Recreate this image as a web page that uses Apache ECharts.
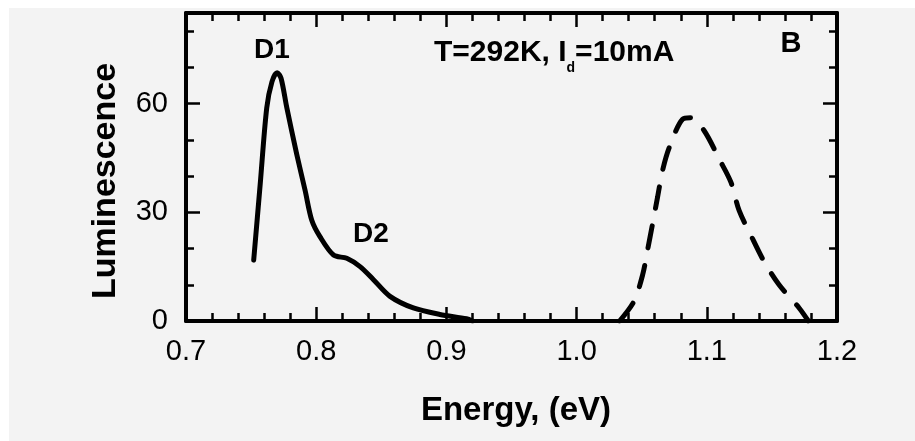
<!DOCTYPE html>
<html>
<head>
<meta charset="utf-8">
<script src="https://cdn.jsdelivr.net/npm/echarts@6/dist/echarts.min.js"></script>
<style>
  html, body { margin: 0; padding: 0; background: #ffffff; }
  #chart { width: 915px; height: 441px; }
</style>
</head>
<body>
<div id="chart"></div>
<script>
// Solid curve (D1 / D2 band)
const solidEnergy = [0.752, 0.757, 0.762, 0.766, 0.770, 0.773, 0.7774, 0.785, 0.7915, 0.7966, 0.803, 0.8133, 0.8235, 0.8337, 0.844, 0.8567, 0.8746, 0.895, 0.9155, 0.920];
const solidLum    = [16.8, 37.8, 58.8, 66.0, 68.5, 67.0, 58.9, 46.1, 36.0, 27.8, 23.2, 18.2, 17.3, 15.0, 11.4, 6.8, 3.6, 1.8, 0.6, 0.0];
// Dashed curve (band-edge peak)
const dashEnergy = [1.033, 1.044, 1.0507, 1.0545, 1.0584, 1.0622, 1.066, 1.0712, 1.0814, 1.0878, 1.098, 1.1095, 1.1185, 1.1248, 1.1338, 1.144, 1.1555, 1.1709, 1.178];
const dashLum    = [0.0, 5.4, 12.7, 19.6, 26.9, 34.2, 41.5, 47.9, 55.7, 56.1, 52.5, 44.7, 38.3, 30.5, 23.7, 16.4, 10.0, 3.6, 0.0];
// Axis settings
const xMin = 0.7, xMax = 1.2, xStep = 0.1;
const yMin = 0, yMax = 85, yMajor = 30, yMinor = 10;
const xTitle = 'Energy, (eV)';
const yTitle = 'Luminescence';
const annD1 = 'D1', annD2 = 'D2', annPanel = 'B';

const FONT = '"Liberation Sans", Arial, Helvetica, sans-serif';
const chart = echarts.init(document.getElementById('chart'), null, { renderer: 'canvas' });

const zip = (a, b) => a.map((v, i) => [v, b[i]]);
const lineBlack = { color: '#000', width: 4 };

function xAxisCfg(pos, showLabel) {
  return {
    type: 'value', position: pos, min: xMin, max: xMax, interval: xStep,
    axisLine: { show: true, onZero: false, lineStyle: lineBlack },
    axisTick: { show: true, inside: true, length: 14, lineStyle: { color: '#000', width: 2.5 } },
    minorTick: { show: true, splitNumber: 5, length: 8, lineStyle: { color: '#000', width: 2.5 } },
    splitLine: { show: false }, minorSplitLine: { show: false },
    axisLabel: { show: showLabel, margin: 16, color: '#000', fontSize: 29, fontFamily: FONT,
                 formatter: v => v.toFixed(1) }
  };
}
function yAxisCfg(pos, interval, len, showLine, showLabel) {
  return {
    type: 'value', position: pos, min: yMin, max: yMax, interval: interval,
    axisLine: { show: showLine, onZero: false, lineStyle: lineBlack },
    axisTick: { show: true, inside: true, length: len, lineStyle: { color: '#000', width: 2.5 } },
    splitLine: { show: false },
    axisLabel: { show: showLabel, margin: 18, color: '#000', fontSize: 29, fontFamily: FONT,
                 formatter: v => (v % yMajor === 0 ? String(v) : '') }
  };
}

const option = {
  animation: false,
  backgroundColor: '#ffffff',
  grid: { left: 186, right: 78, top: 13, bottom: 120, containLabel: false },
  xAxis: [ xAxisCfg('bottom', true), xAxisCfg('top', false) ],
  yAxis: [
    yAxisCfg('left', yMinor, 8, true, true),
    yAxisCfg('left', yMajor, 14, false, false),
    yAxisCfg('right', yMinor, 8, true, false),
    yAxisCfg('right', yMajor, 14, false, false)
  ],
  graphic: [
    { type: 'rect', z: -10, silent: true, shape: { x: 9, y: 8, width: 906, height: 433 }, style: { fill: '#f3f3f3' } },
    { type: 'text', x: 516, y: 411, style: { text: xTitle, fill: '#000', font: 'bold 33px ' + FONT, align: 'center', verticalAlign: 'middle' } },
    { type: 'text', x: 106, y: 181, rotation: Math.PI / 2, style: { text: yTitle, fill: '#000', font: 'bold 34px ' + FONT, align: 'center', verticalAlign: 'middle' } },
    { type: 'text', x: 272, y: 50, style: { text: annD1, fill: '#000', font: 'bold 28px ' + FONT, align: 'center', verticalAlign: 'middle' } },
    { type: 'text', x: 371, y: 234, style: { text: annD2, fill: '#000', font: 'bold 28px ' + FONT, align: 'center', verticalAlign: 'middle' } },
    { type: 'text', x: 791, y: 44, style: { text: annPanel, fill: '#000', font: 'bold 29px ' + FONT, align: 'center', verticalAlign: 'middle' } },
    { type: 'text', x: 434, y: 53, style: {
        text: '{a|T=292K, I}{s|d}{a|=10mA}', align: 'left', verticalAlign: 'middle',
        rich: {
          a: { fontSize: 30, fontWeight: 'bold', fontFamily: FONT, fill: '#000', color: '#000', lineHeight: 30, verticalAlign: 'middle' },
          s: { fontSize: 14, fontWeight: 'bold', fontFamily: FONT, fill: '#000', color: '#000', lineHeight: 44, verticalAlign: 'bottom' }
        } } }
  ],
  series: [
    { type: 'line', xAxisIndex: 0, yAxisIndex: 0, data: zip(solidEnergy, solidLum), smooth: 0.3,
      showSymbol: false, lineStyle: { color: '#000', width: 5, cap: 'round', join: 'round' } },
    { type: 'line', xAxisIndex: 0, yAxisIndex: 0, data: zip(dashEnergy, dashLum), smooth: 0.3,
      showSymbol: false, lineStyle: { color: '#000', width: 5, type: [22, 18], cap: 'round' } }
  ]
};
chart.setOption(option);
</script>
</body>
</html>
